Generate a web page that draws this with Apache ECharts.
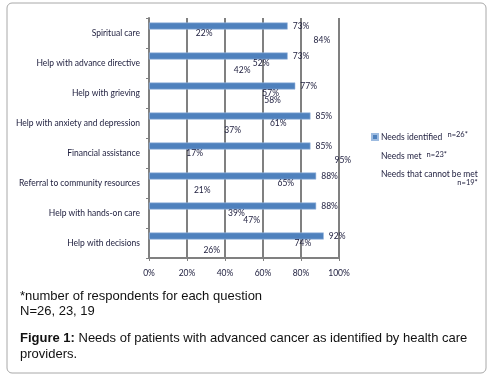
<!DOCTYPE html>
<html>
<head>
<meta charset="utf-8">
<script src="https://cdn.jsdelivr.net/npm/echarts@6/dist/echarts.min.js"></script>
<style>
  html, body { margin: 0; padding: 0; background: #fff; }
  #chart { width: 493px; height: 380px; }
</style>
</head>
<body>
<div id="chart"></div>
<script>
// categories, top to bottom
const categories = [
  'Spiritual care',
  'Help with advance directive',
  'Help with grieving',
  'Help with anxiety and depression',
  'Financial assistance',
  'Referral to community resources',
  'Help with hands-on care',
  'Help with decisions'
];
const needsIdentified = [73, 73, 77, 85, 85, 88, 88, 92];
const needsMet = [22, 52, 57, 61, 17, 65, 39, 74];
const needsCannotBeMet = [84, 42, 58, 37, 95, 21, 47, 26];
const seriesNames = ['Needs identified', 'Needs met', 'Needs that cannot be met'];
const respondents = { 'Needs identified': 'n=26*', 'Needs met': 'n=23*', 'Needs that cannot be met': 'n=19*' };
const xTicks = [0, 20, 40, 60, 80, 100];

const chart = echarts.init(document.getElementById('chart'));

const labelFont = 'Lato, "Open Sans", sans-serif';
const textColor = '#1c1c3c';
const footFont = '13px "Liberation Sans", Arial, sans-serif';

const makeSeries = (name, data, color) => ({
  name: name,
  type: 'bar',
  data: data,
  barWidth: 7,
  barGap: '0%',
  itemStyle: {
    color: color,
    borderColor: color === 'transparent' ? 'transparent' : '#9dbbe0',
    borderWidth: color === 'transparent' ? 0 : 0.6
  },
  label: {
    show: true,
    position: 'right',
    distance: 5,
    formatter: '{c}%',
    color: textColor,
    fontSize: 8.5,
    fontFamily: labelFont
  },
  emphasis: { disabled: true }
});

const option = {
  animation: false,
  backgroundColor: '#fff',
  grid: { left: 149, right: 154, top: 18, bottom: 122 },
  xAxis: {
    type: 'value',
    min: 0,
    max: 100,
    interval: 20,
    axisLine: { show: true, lineStyle: { color: '#808080', width: 2 } },
    axisTick: { show: true, length: 3, lineStyle: { color: '#808080', width: 1 } },
    axisLabel: {
      formatter: v => (xTicks.includes(v) ? v + '%' : ''),
      color: textColor,
      fontSize: 8.5,
      fontFamily: labelFont,
      margin: 11
    },
    splitLine: { show: true, lineStyle: { color: '#808080', width: 2 } }
  },
  yAxis: {
    type: 'category',
    inverse: true,
    data: categories,
    axisLine: { show: true, lineStyle: { color: '#808080', width: 2 } },
    axisTick: { show: true, length: 3, lineStyle: { color: '#808080', width: 1 } },
    axisLabel: {
      color: textColor,
      fontSize: 8.5,
      fontFamily: labelFont,
      margin: 9,
      padding: [2, 0, 0, 0]
    }
  },
  legend: {
    orient: 'vertical',
    left: 366,
    top: 126,
    itemWidth: 6,
    itemHeight: 6,
    itemGap: 9,
    selectedMode: false,
    data: [
      { name: seriesNames[0], icon: 'rect' },
      { name: seriesNames[1], icon: 'none' },
      { name: seriesNames[2], icon: 'none' }
    ],
    formatter: name => {
      if (name === seriesNames[2]) {
        return name + '\n{r|' + respondents[name] + '}';
      }
      return name + ' {n|' + respondents[name] + '}';
    },
    textStyle: {
      color: textColor,
      fontSize: 8.5,
      fontFamily: labelFont,
      padding: [0, 0, 0, -2],
      rich: {
        n: { fontSize: 7.5, fontFamily: labelFont, color: textColor, verticalAlign: 'top', padding: [0, 0, 4, 3] },
        r: { fontSize: 7.5, fontFamily: labelFont, color: textColor, align: 'right', width: 96 }
      }
    }
  },
  series: [
    makeSeries(seriesNames[0], needsIdentified, '#4f81bd'),
    makeSeries(seriesNames[1], needsMet, 'transparent'),
    makeSeries(seriesNames[2], needsCannotBeMet, 'transparent')
  ],
  graphic: [
    {
      type: 'rect',
      shape: { x: 7, y: 3, width: 479, height: 370, r: 5 },
      style: { fill: 'none', stroke: '#a8a8a8', lineWidth: 1 },
      z: -1
    },
    {
      type: 'text',
      left: 20,
      top: 289,
      style: {
        text: '*number of respondents for each question\nN=26, 23, 19',
        fill: '#111',
        font: footFont,
        lineHeight: 15
      }
    },
    {
      type: 'text',
      left: 20,
      top: 330,
      style: {
        text: '{b|Figure 1:} Needs of patients with advanced cancer as identified by health care\nproviders.',
        fill: '#111',
        font: footFont,
        lineHeight: 16,
        rich: {
          b: { fontWeight: 'bold', fontSize: 13, fontFamily: '"Liberation Sans", Arial, sans-serif', fill: '#111' }
        }
      }
    }
  ]
};

chart.setOption(option);
</script>
</body>
</html>
